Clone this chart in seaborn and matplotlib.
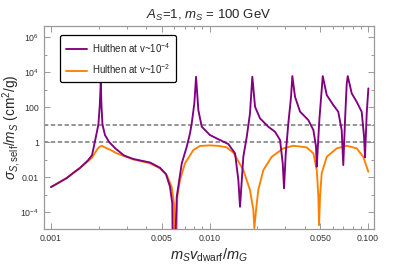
import matplotlib
matplotlib.use("Agg")
import matplotlib.pyplot as plt
import matplotlib.ticker as mticker
import seaborn as sns
import pandas as pd

# values
x_orange = [0.00100, 0.001107, 0.001256, 0.001377, 0.00152, 0.001687, 0.001815, 0.00196,
            0.00202, 0.00209, 0.00216, 0.00238, 0.0026,
            0.0033, 0.00421, 0.00487, 0.00537, 0.00577, 0.00597, 0.00608, 0.00626,
            0.00651, 0.0070, 0.0079, 0.00871, 0.01007, 0.0115, 0.01284, 0.01413,
            0.01634, 0.018, 0.0189, 0.01917, 0.01965, 0.0203, 0.02185, 0.0247,
            0.0292, 0.0338, 0.0410, 0.0452, 0.0475, 0.0486, 0.0491, 0.0498, 0.0510,
            0.0549, 0.0635, 0.0734, 0.0848, 0.0933, 0.1005]
y_orange = [0.00268, 0.00454, 0.00877, 0.0169, 0.0327, 0.072, 0.13, 0.398,
            0.53, 0.615, 0.52, 0.349, 0.226,
            0.1026, 0.0607, 0.0314, 0.013, 0.00279, 3.14e-4, 1e-9, 7.5e-4,
            0.00674, 0.0607, 0.349, 0.6, 0.648, 0.6, 0.498, 0.25,
            0.0251, 0.00181, 1.28e-4, 1.2e-5, 1.28e-4, 0.00181, 0.0251, 0.1445,
            0.436, 0.615, 0.498, 0.226, 0.0251, 7.48e-4, 1.8e-5, 7.48e-4, 0.01626,
            0.1445, 0.436, 0.615, 0.436, 0.1445, 0.0201]

x_purple = [0.00100, 0.001107, 0.001256, 0.001377, 0.00152, 0.00171, 0.001815, 0.00189,
            0.00194, 0.00199,
            0.00203, 0.00206, 0.00208, 0.00211, 0.00219, 0.00232, 0.00253, 0.00289,
            0.0033, 0.00421, 0.00487, 0.00531, 0.00563, 0.00582, 0.00591, 0.00621,
            0.00668, 0.00718, 0.00753, 0.00772, 0.00802, 0.00822, 0.0085, 0.00893,
            0.01007, 0.01165, 0.01314, 0.01449, 0.0152, 0.01557, 0.01634, 0.01717,
            0.018, 0.01862, 0.01937, 0.02083, 0.0235, 0.0259, 0.02786, 0.02896,
            0.02951, 0.03026, 0.03142, 0.03268, 0.0333, 0.03462, 0.03724, 0.04202,
            0.0452, 0.04699, 0.04747, 0.04929, 0.0510, 0.0518, 0.0549, 0.0604,
            0.0649, 0.0682, 0.0698, 0.0716, 0.0734, 0.0745, 0.0789, 0.0848,
            0.0912, 0.0944, 0.0957, 0.0981, 0.1005]
y_purple = [0.00268, 0.00454, 0.00877, 0.0169, 0.0327, 0.09, 0.18, 1.04,
            3.27, 10.3,
            130, 2790, 130, 10.3, 2.5, 1.04, 0.454, 0.17,
            0.108, 0.068, 0.034, 0.0148, 0.00279, 3.14e-4, 1e-9, 7.5e-4,
            0.0607, 0.539, 3.14, 11.7, 163, 5390, 67, 7.5,
            2.51, 1.3, 0.77, 0.226, 0.00674, 2.0e-4, 0.1445, 2.0,
            43.7, 5390, 104, 22.6, 7.5, 3.88, 1.3, 0.0607,
            0.00226, 0.226, 11.7, 388, 5900, 388, 55, 18,
            4.85, 0.539, 0.0388, 18, 936, 5900, 485, 130,
            53.9, 4.85, 0.0485, 18, 2260, 5900, 607, 201,
            53.9, 2.0, 0.134, 43.7, 1170]

dash_levels = [10, 1]
x_ticks = [0.001, 0.005, 0.010, 0.050, 0.100]
x_ticklabels = ["0.001", "0.005", "0.010", "0.050", "0.100"]
y_ticks = [1e-4, 1e-2, 1, 100, 1e4, 1e6]
y_ticklabels = ["$10^{-4}$", "0.01", "1", "100", "$10^{4}$", "$10^{6}$"]

sns.set_style("ticks")
plt.rcParams['font.family'] = ['Liberation Sans', 'DejaVu Sans']
plt.rcParams['mathtext.fontset'] = 'custom'
plt.rcParams['mathtext.rm'] = 'Liberation Sans'
plt.rcParams['mathtext.it'] = 'Liberation Sans:italic'

df_p = pd.DataFrame({"x": x_purple, "y": y_purple})
df_o = pd.DataFrame({"x": x_orange, "y": y_orange})

fig = plt.figure(figsize=(3.98, 2.66), dpi=100)
ax = fig.add_axes([0.1106, 0.139, 0.829, 0.763])

for lv in dash_levels:
    ax.axhline(lv, color="#8c8c8c", lw=1.3, ls=(0, (2.4, 1.4)), zorder=1)

sns.lineplot(data=df_p, x="x", y="y", ax=ax, color="#800080", lw=1.35,
             estimator=None, label=r"Hulthen at v~$10^{-4}$", zorder=3)
sns.lineplot(data=df_o, x="x", y="y", ax=ax, color="#ff8000", lw=1.35,
             estimator=None, label=r"Hulthen at v~$10^{-2}$", zorder=2)

ax.set_xscale("log")
ax.set_yscale("log")
ax.set_xlim(0.000903, 0.109)
ax.set_ylim(10**-4.97, 10**6.63)

ax.xaxis.set_major_locator(mticker.FixedLocator(x_ticks))
ax.xaxis.set_major_formatter(mticker.FixedFormatter(x_ticklabels))
ax.xaxis.set_minor_locator(mticker.LogLocator(base=10, subs=range(2, 10)))
ax.xaxis.set_minor_formatter(mticker.NullFormatter())
ax.yaxis.set_major_locator(mticker.FixedLocator(y_ticks))
ax.yaxis.set_major_formatter(mticker.FixedFormatter(y_ticklabels))
ax.yaxis.set_minor_locator(mticker.FixedLocator([1e-5, 1e-3, 0.1, 10, 1e3, 1e5]))
ax.yaxis.set_minor_formatter(mticker.NullFormatter())

ax.tick_params(which="both", direction="in", top=True, right=True, color="#999999",
               labelsize=6.3, labelcolor="#333333", width=0.7)
ax.tick_params(which="major", length=4)
ax.tick_params(which="minor", length=2.3)
for s in ax.spines.values():
    s.set_color("#999999")
    s.set_linewidth(0.9)

ax.set_xlabel(r"$m_S v_{\mathrm{dwarf}}/m_G$", fontsize=10.5, labelpad=3)
ax.set_ylabel(r"$\sigma_{S,\mathrm{self}}/m_S$ (cm$^2$/g)", fontsize=9.8)
ax.yaxis.set_label_coords(-0.064, 0.5)
ax.set_title(r"$A_S$=1, $m_S$ = 100 GeV", fontsize=9.5, pad=5)

leg = ax.legend(loc="upper left", bbox_to_anchor=(0.048, 0.956), borderaxespad=0,
                fontsize=7, frameon=True, fancybox=True, edgecolor="black",
                handlelength=2.2, handletextpad=0.5, labelspacing=0.8, borderpad=0.6)
leg.get_frame().set_linewidth(0.9)
leg.get_frame().set_alpha(1)

fig.savefig("out.png", dpi=100)
